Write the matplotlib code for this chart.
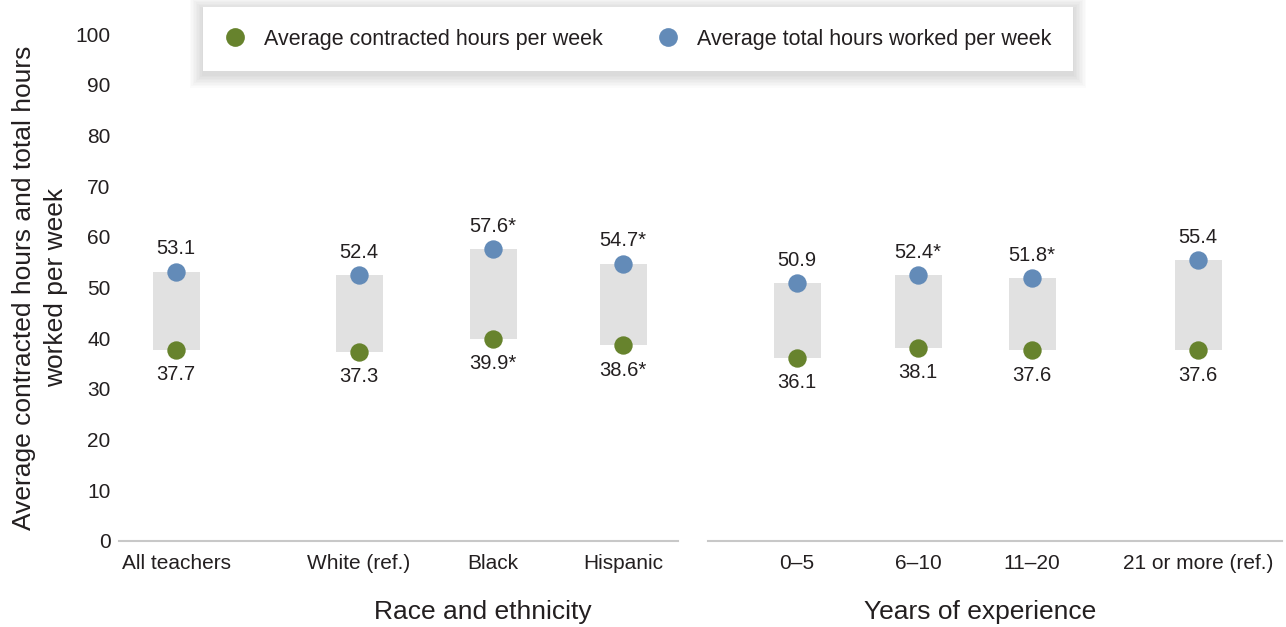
import numpy as np
import matplotlib
matplotlib.use('Agg')
import matplotlib.pyplot as plt
from matplotlib.lines import Line2D
from matplotlib.patches import Rectangle

plt.rcParams['font.family'] = ['Liberation Sans', 'DejaVu Sans']

# Data
race_cats = ['All teachers', 'White (ref.)', 'Black', 'Hispanic']
race_contracted = [37.7, 37.3, 39.9, 38.6]
race_total = [53.1, 52.4, 57.6, 54.7]
race_contracted_sig = [False, False, True, True]
race_total_sig = [False, False, True, True]

exp_cats = ['0\u20135', '6\u201310', '11\u201320', '21 or more (ref.)']
exp_contracted = [36.1, 38.1, 37.6, 37.6]
exp_total = [50.9, 52.4, 51.8, 55.4]
exp_contracted_sig = [False, False, False, False]
exp_total_sig = [False, True, True, False]

# layout: category slot positions (axis units, roughly pixels/100)
race_pos = [0.57, 2.40, 3.74, 5.04]
exp_pos = [0.89, 2.10, 3.24, 4.90]

GREEN = '#67832d'
BLUE = '#638bb8'
BAR = '#e1e1e1'
TXT = '#231f20'

fig = plt.figure(figsize=(12.86, 6.27), dpi=100)
ax1 = fig.add_axes([119/1286, 86/627, 559/1286, 507/627])
ax2 = fig.add_axes([708/1286, 86/627, 574/1286, 507/627])


def fmt(v, sig):
    return f'{v:.1f}' + ('*' if sig else '')


def draw_group(ax, cats, pos, lo, hi, lo_sig, hi_sig, width_units):
    lo = np.array(lo)
    hi = np.array(hi)
    ax.bar(pos, hi - lo, bottom=lo, width=0.47, color=BAR, zorder=1)
    ax.scatter(pos, lo, s=175, color=GREEN, zorder=3, linewidths=0)
    ax.scatter(pos, hi, s=175, color=BLUE, zorder=3, linewidths=0)
    for x, v, s in zip(pos, lo, lo_sig):
        ax.annotate(fmt(v, s), (x, v), xytext=(0, -18), textcoords='offset points',
                    ha='center', va='center', fontsize=14.5, color=TXT)
    for x, v, s in zip(pos, hi, hi_sig):
        ax.annotate(fmt(v, s), (x, v), xytext=(0, 16.5), textcoords='offset points',
                    ha='center', va='center', fontsize=14.5, color=TXT)
    ax.set_xlim(0, width_units)
    ax.set_ylim(0, 100)
    ax.set_xticks(pos)
    ax.set_xticklabels(cats, fontsize=15, color=TXT)
    ax.tick_params(axis='x', length=0, pad=9.5)
    ax.set_facecolor('none')
    for sp in ['top', 'right', 'left']:
        ax.spines[sp].set_visible(False)
    ax.spines['bottom'].set_color('#c8c8c8')
    ax.spines['bottom'].set_linewidth(1.5)


draw_group(ax1, race_cats, race_pos, race_contracted, race_total,
           race_contracted_sig, race_total_sig, 5.59)
draw_group(ax2, exp_cats, exp_pos, exp_contracted, exp_total,
           exp_contracted_sig, exp_total_sig, 5.74)

ax1.set_yticks(np.arange(0, 101, 10))
ax1.tick_params(axis='y', length=0, pad=6, labelsize=15, labelcolor=TXT)
ax2.set_yticks([])

ax1.set_ylabel('Average contracted hours and total hours\nworked per week',
               fontsize=19, color=TXT, linespacing=1.4)
ax1.yaxis.set_label_coords(-51/559, 0.5)

ax1.set_xlabel('Race and ethnicity', fontsize=19, color=TXT)
ax1.xaxis.set_label_coords((483 - 119)/559, -59/507)
ax2.set_xlabel('Years of experience', fontsize=19, color=TXT)
ax2.xaxis.set_label_coords((980 - 708)/574, -59/507)

handles = [
    Line2D([], [], marker='o', linestyle='none', markersize=13.5,
           markerfacecolor=GREEN, markeredgewidth=0),
    Line2D([], [], marker='o', linestyle='none', markersize=13.5,
           markerfacecolor=BLUE, markeredgewidth=0),
]
leg = fig.legend(handles, ['Average contracted hours per week',
                           'Average total hours worked per week'],
                 loc='upper left', bbox_to_anchor=(203/1286, 1 - 7/627),
                 bbox_transform=fig.transFigure, ncol=2, fontsize=15.5,
                 frameon=True, fancybox=False, borderpad=1.0,
                 handlelength=1.0, handletextpad=0.85, columnspacing=2.5,
                 borderaxespad=0)
leg.get_frame().set_edgecolor('none')
leg.get_frame().set_facecolor('white')
leg.get_frame().set_alpha(1)
leg.set_zorder(6)
for t in leg.get_texts():
    t.set_color(TXT)

# soft shadow around the legend box
fig.canvas.draw()
bb = leg.get_window_extent()
for i in range(1, 10):
    g = i * 1.5
    r = Rectangle((bb.x0 - g, bb.y0 - g - 3), bb.width + 2 * g, bb.height + 2 * g,
                  transform=None, facecolor='black', alpha=0.014,
                  edgecolor='none', zorder=5)
    fig.patches.append(r)

fig.savefig('out.png', dpi=100)
